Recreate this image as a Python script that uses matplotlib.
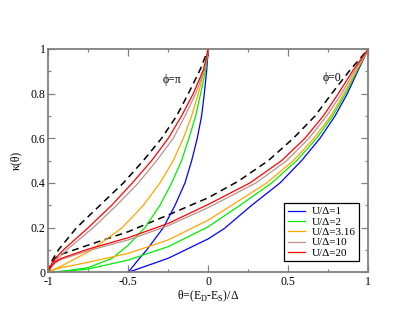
import matplotlib
matplotlib.use("Agg")
import matplotlib.pyplot as plt

plt.rcParams['font.family'] = ['Liberation Serif', 'DejaVu Serif']
plt.rcParams['mathtext.fontset'] = 'custom'
plt.rcParams['mathtext.rm'] = 'Liberation Serif'
plt.rcParams['axes.unicode_minus'] = False

# kappa(theta), phi = pi branch (theta in [-1, 0])
pi_dash_x = [-1, -0.98, -0.9375, -0.823, -0.677, -0.531, -0.406, -0.292, -0.198, -0.125, -0.052, 0]
pi_dash_y = [0, 0.048, 0.1, 0.2, 0.3, 0.4, 0.5, 0.6, 0.7, 0.8, 0.906, 1]

pi_x = {
    "1":    [-0.5, -0.445, -0.385, -0.281, -0.208, -0.146, -0.104, -0.069, -0.042, -0.025, -0.01, 0],
    "2":    [-1, -0.875, -0.75, -0.6, -0.5, -0.396, -0.302, -0.229, -0.167, -0.121, -0.079, -0.048, -0.017, 0],
    "3.16": [-1, -0.9, -0.82, -0.729, -0.5375, -0.406, -0.302, -0.219, -0.156, -0.104, -0.0625, -0.025, 0],
    "10":   [-1, -0.96, -0.885, -0.719, -0.573, -0.4375, -0.323, -0.219, -0.146, -0.079, -0.025, 0],
    "20":   [-1, -0.97, -0.906, -0.75, -0.604, -0.475, -0.354, -0.25, -0.167, -0.094, -0.031, 0],
}
pi_y = {
    "1":    [0, 0.05, 0.1, 0.2, 0.3, 0.4, 0.5, 0.6, 0.7, 0.8, 0.906, 1],
    "2":    [0, 0.008, 0.021, 0.063, 0.122, 0.2, 0.3, 0.4, 0.5, 0.6, 0.7, 0.8, 0.906, 1],
    "3.16": [0, 0.035, 0.065, 0.1, 0.2, 0.3, 0.4, 0.5, 0.6, 0.7, 0.8, 0.906, 1],
    "10":   [0.01, 0.048, 0.1, 0.2, 0.3, 0.4, 0.5, 0.6, 0.7, 0.8, 0.906, 1],
    "20":   [0.01, 0.05, 0.1, 0.2, 0.3, 0.4, 0.5, 0.6, 0.7, 0.8, 0.906, 1],
}

# phi = 0 branch (theta in [-1, 1])
zero_dash_x = [-1, -0.958, -0.917, -0.75, -0.5, -0.25, 0, 0.1875, 0.375, 0.531, 0.667, 0.771, 0.886, 1]
zero_dash_y = [0, 0.063, 0.081, 0.122, 0.182, 0.257, 0.334, 0.408, 0.5, 0.6, 0.7, 0.8, 0.906, 1]

zero_x = {
    "1":    [-0.5, -0.25, 0, 0.1, 0.271, 0.448, 0.583, 0.698, 0.792, 0.869, 0.9375, 1],
    "2":    [-1, -0.917, -0.75, -0.5, -0.25, 0, 0.198, 0.396, 0.552, 0.677, 0.777, 0.858, 0.931, 1],
    "3.16": [-1, -0.917, -0.75, -0.5, -0.25, 0, 0.146, 0.365, 0.531, 0.66, 0.765, 0.848, 0.927, 1],
    "10":   [-1, -0.96, -0.917, -0.75, -0.5, -0.25, 0, 0.298, 0.49, 0.629, 0.74, 0.833, 0.917, 1],
    "20":   [-1, -0.96, -0.917, -0.75, -0.5, -0.25, 0, 0.26, 0.458, 0.604, 0.719, 0.8125, 0.906, 1],
}
zero_y = {
    "1":    [0, 0.063, 0.15, 0.196, 0.3, 0.4, 0.5, 0.6, 0.7, 0.8, 0.906, 1],
    "2":    [0, 0.003, 0.015, 0.055, 0.115, 0.204, 0.3, 0.4, 0.5, 0.6, 0.7, 0.8, 0.906, 1],
    "3.16": [0.005, 0.021, 0.045, 0.085, 0.145, 0.234, 0.3, 0.4, 0.5, 0.6, 0.7, 0.8, 0.906, 1],
    "10":   [0.01, 0.04, 0.058, 0.097, 0.145, 0.209, 0.29, 0.4, 0.5, 0.6, 0.7, 0.8, 0.906, 1],
    "20":   [0.01, 0.045, 0.063, 0.104, 0.155, 0.219, 0.304, 0.4, 0.5, 0.6, 0.7, 0.8, 0.906, 1],
}

labels = ["1", "2", "3.16", "10", "20"]
colors = ["#0000ff", "#00ee00", "#ffa500", "#bc8f8f", "#ff0000"]

xticks = [-1, -0.5, 0, 0.5, 1]
xticklabels = ["-1", "-0.5", "0", "0.5", "1"]
yticks = [0, 0.2, 0.4, 0.6, 0.8, 1]
yticklabels = ["0", "0.2", "0.4", "0.6", "0.8", "1"]

fig = plt.figure(figsize=(4.15, 3.21), dpi=100)
ax = fig.add_axes([0.1164, 0.1517, 0.7711, 0.6957])

ax.plot(pi_dash_x, pi_dash_y, color="black", ls=(0, (4.5, 3)), lw=1.1)
ax.plot(zero_dash_x, zero_dash_y, color="black", ls=(0, (4.5, 3)), lw=1.1)
for lab, c in zip(labels, colors):
    ax.plot(pi_x[lab], pi_y[lab], color=c, lw=0.9)
    ax.plot(zero_x[lab], zero_y[lab], color=c, lw=0.9, label="U/Δ=" + lab)

ax.set_xlim(-1, 1)
ax.set_ylim(0, 1)
ax.set_xticks(xticks)
ax.set_xticklabels(xticklabels)
ax.set_yticks(yticks)
ax.set_yticklabels(yticklabels)
ax.set_xticks([-0.75, -0.25, 0.25, 0.75], minor=True)
ax.set_yticks([0.1, 0.3, 0.5, 0.7, 0.9], minor=True)
ax.tick_params(which="both", direction="in", top=True, right=True,
               color="#808080", labelsize=8.5, pad=2)
ax.tick_params(axis="x", pad=3)
ax.tick_params(which="major", length=5, width=0.9)
ax.tick_params(which="minor", length=2.5, width=0.9)
for s in ax.spines.values():
    s.set_color("#808080")
    s.set_linewidth(1.3)

ax.set_xlabel("θ=(E$_{\\rm D}$-E$_{\\rm S}$)/Δ", fontsize=8.5, labelpad=0)
ax.set_ylabel("κ(θ)", fontsize=8.5, labelpad=6)

ax.text(-0.227, 0.862, "ϕ=π", fontsize=8.5, ha="center", va="center")
ax.text(0.776, 0.868, "ϕ=0", fontsize=8.5, ha="center", va="center")

leg = ax.legend(loc="upper left", bbox_to_anchor=(0.7375, 0.309), borderaxespad=0,
                fontsize=8, frameon=True, fancybox=False, edgecolor="black",
                framealpha=1, borderpad=0.3, handlelength=1.6, handletextpad=0.6,
                labelspacing=0.05)
leg.get_frame().set_linewidth(0.9)

fig.savefig("out.png", dpi=100)
